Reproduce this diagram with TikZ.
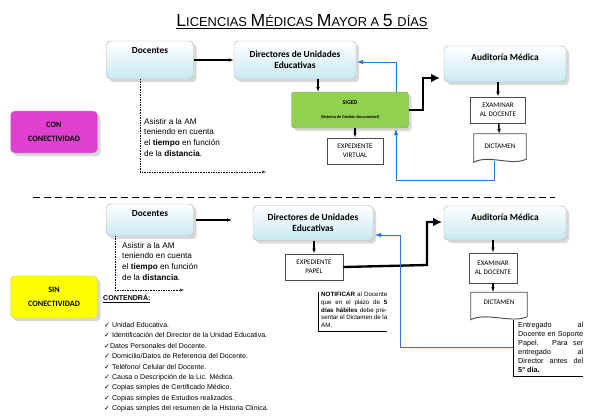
\documentclass[tikz,border=0pt]{standalone}
\usepackage{fontspec}
\setmainfont{Liberation Sans}
\newfontfamily\carlito{Carlito}
\newfontfamily\dejavu{DejaVu Sans}
\usetikzlibrary{arrows.meta,positioning,shadows}
\newlength\px \setlength\px{0.03cm}
\definecolor{boxblue}{RGB}{200,232,242}
\definecolor{sigedgreen}{RGB}{146,208,80}
\definecolor{conmag}{RGB}{224,64,208}
\definecolor{sinyel}{RGB}{255,255,0}
\definecolor{linkblue}{RGB}{30,120,220}
\tikzset{
  actor/.style={rectangle,rounded corners=4\px,draw=gray!60,top color=white,bottom color=boxblue,
    drop shadow={opacity=.3},font=\carlito\bfseries\fontsize{8}{9.5}\selectfont,align=center},
  task/.style={rectangle,draw=black!70,fill=white,thick,font=\carlito\fontsize{6}{7.5}\selectfont,align=center},
  tag/.style={rectangle,rounded corners=4\px,draw=gray!50,drop shadow={opacity=.3},
    font=\carlito\bfseries\fontsize{7}{12}\selectfont,align=center,minimum width=87\px,minimum height=42\px},
  flow/.style={-{Latex[length=1.5mm]},very thick},
  big/.style={-{Latex[length=2.7mm,width=2.7mm]},line width=2pt},
  back/.style={-{Latex[length=1.8mm]},linkblue,thick},
  walk/.style={-{Latex[open,length=1.2mm]},densely dotted},
  note/.style={font=\fontsize{6.3}{7.7}\selectfont,align=left,anchor=north west,inner sep=0pt},
}
\newcommand\doc[1]{% wavy document shape around a node
  \draw[thick,black!70,fill=white] (#1.north west) -- (#1.north east) -- ([yshift=3\px]#1.south east)
    .. controls ([xshift=-15\px,yshift=-4\px]#1.south east) and ([xshift=15\px,yshift=8\px]#1.south west) .. (#1.south west) -- cycle;}
\begin{document}
\begin{tikzpicture}[x=1\px,y=-1\px]
\useasboundingbox (0,0) rectangle (600,415);

\node (title) at (302,22) {\underline{\fontsize{15}{15}\selectfont L\fontsize{11}{11}\selectfont ICENCIAS
 \fontsize{15}{15}\selectfont M\fontsize{11}{11}\selectfont ÉDICAS \fontsize{15}{15}\selectfont M\fontsize{11}{11}\selectfont AYOR A
 \fontsize{15}{15}\selectfont 5 \fontsize{11}{11}\selectfont DÍAS}};

% con conectividad
\node[actor,minimum width=87\px,minimum height=38\px,label={[anchor=north,inner sep=6\px,font=\carlito\bfseries\fontsize{8}{9}\selectfont]north:Docentes}] (doc1) at (150,60) {};
\node[actor,minimum width=122\px,minimum height=38\px] (dir1) at (295,60) {Directores de Unidades\\Educativas};
\node[actor,minimum width=122\px,minimum height=36\px,label={[anchor=north,inner sep=8\px,font=\carlito\bfseries\fontsize{8}{9}\selectfont]north:Auditoría Médica}] (aud1) at (505,64) {};
\node[rectangle,rounded corners=3\px,fill=sigedgreen,draw=sigedgreen!80!black,drop shadow={opacity=.3},
  minimum width=117\px,minimum height=36\px,align=center,font=\carlito\bfseries\fontsize{5}{10}\selectfont] (siged) at (350,110)
  {SIGED\\[2\px]\fontsize{3.6}{5}\selectfont(Sistema de Gestión Documental)};
\node[task,minimum width=56\px,minimum height=26\px] (virt) at (355,151) {EXPEDIENTE\\VIRTUAL};
\node[task,minimum width=55\px,minimum height=26\px] (exa1) at (498,110) {EXAMINAR\\AL DOCENTE};
\node[minimum width=52\px,minimum height=28\px] (dic1) at (500,148) {};
\doc{dic1}
\node[font=\carlito\fontsize{6}{7}\selectfont] (dic1t) at ([yshift=2\px]dic1) {DICTAMEN};
\node[tag,fill=conmag] (con) at (54,132) {CON\\CONECTIVIDAD};
\node[note,font=\fontsize{7}{9.2}\selectfont] (walk1) at (144,118) {Asistir a la AM\\teniendo en cuenta\\el \textbf{tiempo} en función\\de la \textbf{distancia}.};
\coordinate (w1) at (266,172);

\draw[flow] (doc1) -- (dir1);
\draw[flow] (318,79) -- (318,92);
\draw[flow] (siged.south -| virt) -- (virt);
\draw[big] (siged.east) -- (423,110) |- (440,78);
\draw[flow] (aud1.south -| exa1) -- (exa1);
\draw[flow] (exa1) -- (dic1);
\draw[back] (396,92) |- (357,62);
\draw[back] (494,161) |- (396,180) -- (396,129);
\draw[walk] (140,79) |- (w1);

\draw[thick,dash pattern=on 7\px off 4\px] (33,197) -- (555,197);

% sin conectividad
\node[actor,minimum width=87\px,minimum height=32\px,label={[anchor=north,inner sep=6\px,font=\carlito\bfseries\fontsize{8}{9}\selectfont]north:Docentes}] (doc2) at (150,220) {};
\node[actor,minimum width=120\px,minimum height=35\px] (dir2) at (313,223) {Directores de Unidades\\Educativas};
\node[actor,minimum width=122\px,minimum height=34\px,label={[anchor=north,inner sep=8\px,font=\carlito\bfseries\fontsize{8}{9}\selectfont]north:Auditoría Médica}] (aud2) at (505,223) {};
\node[task,minimum width=58\px,minimum height=26\px] (pap) at (314,267) {EXPEDIENTE\\PAPEL};
\node[task,minimum width=48\px,minimum height=30\px] (exa2) at (493,268) {EXAMINAR\\AL DOCENTE};
\node[minimum width=56\px,minimum height=27\px] (dic2) at (499,306) {};
\doc{dic2}
\node[font=\carlito\fontsize{6}{7}\selectfont] (dic2t) at ([yshift=4\px]dic2) {DICTAMEN};
\node[tag,fill=sinyel] (sin) at (54,297) {SIN\\CONECTIVIDAD};
\node[note,font=\fontsize{7}{9.2}\selectfont] (walk2) at (122,242) {Asistir a la AM\\teniendo en cuenta\\el \textbf{tiempo} en función\\de la \textbf{distancia}.};
\coordinate (w2) at (184,290);
\node[note,text width=66\px,align=justify,font=\fontsize{5.3}{6.6}\selectfont] (notif) at (321,292)
  {\textbf{NOTIFICAR} al Docente que en el plazo de \textbf{5 días hábiles} debe presentar el Dictamen de la AM.};
\draw (notif.north west) ++(-3\px,0) |- ([yshift=-3\px]notif.south east);
\node[note,text width=65\px,align=justify,font=\fontsize{6.2}{7.7}\selectfont] (entr) at (518,322)
  {Entregado al Docente en Soporte Papel. Para ser entregado al Director antes del \textbf{5° día.}};
\draw (513,320) |- ([yshift=-3\px]entr.south east);
\node[note,font=\bfseries\fontsize{6}{7}\selectfont] (cont) at (103,294) {\underline{CONTENDRÁ:}};
\node[note,font=\fontsize{6}{8.9}\selectfont] (list) at (104,322) {%
{\dejavu ✓} Unidad Educativa.\\
{\dejavu ✓} Identificación del Director de la Unidad Educativa.\\
{\dejavu ✓}Datos Personales del Docente.\\
{\dejavu ✓} Domicilio/Datos de Referencia del Docente.\\
{\dejavu ✓} Teléfono/ Celular del Docente.\\
{\dejavu ✓} Causa o Descripción de la Lic. Médica.\\
{\dejavu ✓} Copias simples de Certificado Médico.\\
{\dejavu ✓} Copias simples de Estudios realizados.\\
{\dejavu ✓} Copias simples del resumen de la Historia Clínica.};

\draw[flow] (196,220) -- (232,220);
\draw[flow] (dir2.south -| pap) -- (pap);
\draw[big] (pap.east) -- (427,265) |- (442,222);
\draw[flow] (aud2.south -| exa2) -- (exa2);
\draw[flow] (exa2) -- (dic2.north -| exa2);
\draw[back] (513,347) -- (400,347) |- (375,235);
\draw[walk] (115,236) |- (w2);
\end{tikzpicture}
\end{document}
